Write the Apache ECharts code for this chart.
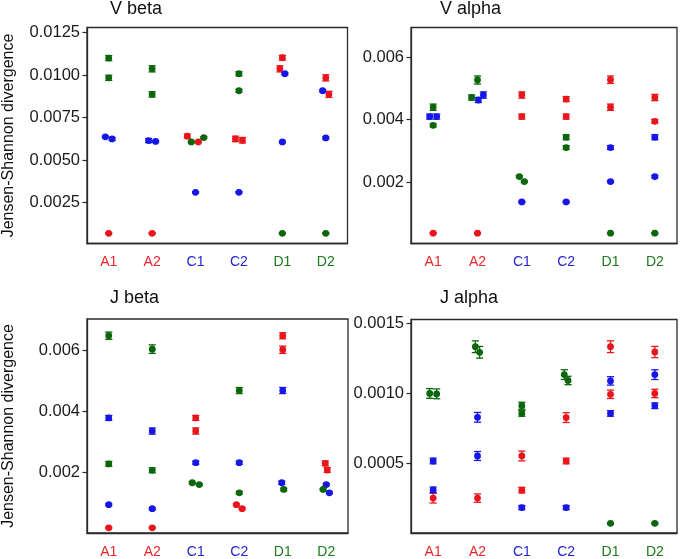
<!DOCTYPE html>
<html><head><meta charset="utf-8">
<script src="https://cdn.jsdelivr.net/npm/echarts@6/dist/echarts.min.js"></script>
<style>html,body{margin:0;padding:0;background:#fff}#c{width:680px;height:559px}</style>
</head><body><div id="c"></div>
<script>
// ---------- data ----------
const categories = ['A1', 'A2', 'C1', 'C2', 'D1', 'D2'];
const categoryGroup = ['A', 'A', 'C', 'C', 'D', 'D'];
const panelTitles = ['V beta', 'V alpha', 'J beta', 'J alpha'];
const yAxisTitle = 'Jensen-Shannon divergence';

// axis limits
const vBetaRange = [0.0001, 0.0128];
const vAlphaRange = [0.00004, 0.00695];
const jBetaRange = [0, 0.00703];
const jAlphaRange = [0, 0.00153];

// tick labels
const vBetaTicks = ['0.0025', '0.0050', '0.0075', '0.0100', '0.0125'];
const vAlphaTicks = ['0.002', '0.004', '0.006'];
const jBetaTicks = ['0.002', '0.004', '0.006'];
const jAlphaTicks = ['0.0005', '0.0010', '0.0015'];

// points: [categoryIndex, value, error]; grouped by comparison sample (A = red, C = blue, D = green)
const vBetaA = [[0,0.0007,0.00003],[1,0.0007,0.00003],[2,0.00607,0.00004],[2,0.00641,0.00012],[3,0.00617,0.00016],[3,0.00625,0.00016],[4,0.01102,0.00014],[4,0.01037,0.00018],[5,0.00984,0.00018],[5,0.00887,0.00018]];
const vBetaC = [[0,0.00637,0.00005],[0,0.00625,0.00008],[1,0.0061,0.00005],[1,0.00615,0.00012],[2,0.00311,0.00004],[3,0.00311,0.00004],[4,0.01008,0.00006],[4,0.00607,0.00005],[5,0.00908,0.00006],[5,0.00631,0.00006]];
const vBetaD = [[0,0.0110,0.00015],[0,0.00984,0.00015],[1,0.01037,0.00018],[1,0.00887,0.00016],[2,0.00607,0.00005],[2,0.00633,0.00005],[3,0.01008,0.00012],[3,0.00908,0.00008],[4,0.0007,0.00003],[5,0.0007,0.00003]];

const vAlphaA = [[0,0.00037,0.00001],[1,0.00037,0.00001],[2,0.00479,0.0001],[2,0.0041,0.00008],[3,0.00466,0.00008],[3,0.0041,0.00008],[4,0.00528,0.00012],[4,0.0044,0.0001],[5,0.00471,0.0001],[5,0.00395,0.00006]];
const vAlphaC = [[0,0.0041,0.00008],[0,0.0041,0.00008],[1,0.00463,0.00008],[1,0.00479,0.0001],[2,0.00137,0.00002],[3,0.00137,0.00002],[4,0.00311,0.00006],[4,0.00202,0.00003],[5,0.00344,0.00008],[5,0.00218,0.00004]];
const vAlphaD = [[0,0.0044,0.0001],[0,0.00382,0.00005],[1,0.00527,0.00013],[1,0.00471,0.00008],[2,0.00218,0.00003],[2,0.00202,0.00003],[3,0.00344,0.00008],[3,0.00311,0.00006],[4,0.00037,0.00001],[5,0.00037,0.00001]];

const jBetaA = [[0,0.00017,0.00002],[1,0.00017,0.00002],[2,0.00378,0.00008],[2,0.00335,0.0001],[3,0.0008,0.00003],[3,0.00093,0.00003],[4,0.00648,0.0001],[4,0.00602,0.00012],[5,0.00229,0.00008],[5,0.00207,0.00008]];
const jBetaC = [[0,0.00378,0.00008],[0,0.00093,0.00003],[1,0.00335,0.0001],[1,0.0008,0.00003],[2,0.00231,0.00005],[3,0.00231,0.00005],[4,0.00468,0.0001],[4,0.00165,0.00005],[5,0.00159,0.00003],[5,0.00132,0.00003]];
const jBetaD = [[0,0.00648,0.00012],[0,0.00227,0.00008],[1,0.00604,0.00014],[1,0.00206,0.00008],[2,0.00165,0.00003],[2,0.00159,0.00003],[3,0.00468,0.0001],[3,0.00132,0.00004],[4,0.00143,0.00004],[5,0.00143,0.00003]];

const jAlphaA = [[0,0.00025,0.000035],[1,0.00025,0.00003],[2,0.000552,0.000035],[2,0.000307,0.00002],[3,0.000827,0.000035],[3,0.000516,0.00002],[4,0.001335,0.000042],[4,0.000994,0.00003],[5,0.001297,0.00004],[5,0.001,0.00003]];
const jAlphaC = [[0,0.000516,0.00002],[0,0.000309,0.00002],[1,0.000829,0.000035],[1,0.000552,0.000032],[2,0.000182,0.000015],[3,0.000182,0.000015],[4,0.00109,0.00003],[4,0.000857,0.00002],[5,0.001135,0.000035],[5,0.000912,0.00002]];
const jAlphaD = [[0,0.001,0.000035],[0,0.000997,0.000035],[1,0.001335,0.000042],[1,0.001295,0.000042],[2,0.000912,0.000025],[2,0.000857,0.00002],[3,0.001093,0.00003],[3,0.001135,0.000035],[4,0.000069,0.000005],[5,0.000069,0.000005]];

// ---------- styling / layout ----------
const groupColor = { A: '#e8161c', C: '#1616e6', D: '#0c660c' };
const labelColor = { A: '#e8262a', C: '#2424d0', D: '#1c7a1c' };
const FONT = '"Liberation Sans", Arial, sans-serif';
const grids = [
  { left: 82, top: 27.5, width: 265.5, height: 216 },
  { left: 411, top: 27.5, width: 266, height: 216 },
  { left: 82, top: 319, width: 266, height: 216.5 },
  { left: 411, top: 319.5, width: 266, height: 216 }
];
const titlePos = [[110, 0], [440, 0], [110, 289], [440, 289]];
const DOT_R = 3.4;

const panels = [
  { range: vBetaRange, ticks: vBetaTicks, groups: { A: vBetaA, C: vBetaC, D: vBetaD } },
  { range: vAlphaRange, ticks: vAlphaTicks, groups: { A: vAlphaA, C: vAlphaC, D: vAlphaD } },
  { range: jBetaRange, ticks: jBetaTicks, groups: { A: jBetaA, C: jBetaC, D: jBetaD } },
  { range: jAlphaRange, ticks: jAlphaTicks, groups: { A: jAlphaA, C: jAlphaC, D: jAlphaD } }
];

// simple beeswarm: horizontal pixel offsets computed from values
function beeswarm(panel, gridH) {
  const pxPerUnit = gridH / (panel.range[1] - panel.range[0]);
  const d = DOT_R * 2 + 0.2;
  const all = [];
  Object.keys(panel.groups).forEach(g => panel.groups[g].forEach(r => all.push({ g, cat: r[0], v: r[1], e: r[2], dx: 0 })));
  const byCat = {};
  all.forEach(p => (byCat[p.cat] = byCat[p.cat] || []).push(p));
  Object.values(byCat).forEach(list => {
    list.sort((a, b) => a.v - b.v);
    const placed = [];
    list.forEach(p => {
      p.py = p.v * pxPerUnit;
      for (let k = 0; k < 400; k++) {
        const c = k === 0 ? 0 : (k % 2 === 1 ? -1 : 1) * Math.ceil(k / 2) * 0.25;
        if (placed.every(q => (c - q.dx) ** 2 + (p.py - q.py) ** 2 >= d * d)) { p.dx = c; break; }
      }
      placed.push(p);
    });
    const parent = placed.map((_, i) => i);
    const find = i => parent[i] === i ? i : (parent[i] = find(parent[i]));
    for (let i = 0; i < placed.length; i++)
      for (let j = i + 1; j < placed.length; j++) {
        const a = placed[i], b = placed[j];
        if (Math.hypot(a.dx - b.dx, a.py - b.py) < d + 0.6) parent[find(i)] = find(j);
      }
    const clusters = {};
    placed.forEach((p, i) => (clusters[find(i)] = clusters[find(i)] || []).push(p));
    Object.values(clusters).forEach(cl => {
      const mn = Math.min(...cl.map(p => p.dx)), mx = Math.max(...cl.map(p => p.dx));
      const sh = -(mn + mx) / 2;
      cl.forEach(p => p.dx += sh);
    });
  });
  return all;
}

function makeRender(color) {
  return function (params, api) {
    const ci = api.value(0), v = api.value(1), e = api.value(2), dx = api.value(3);
    const c = api.coord([ci, v]);
    const yt = api.coord([ci, v + e])[1];
    const yb = api.coord([ci, v - e])[1];
    const x = c[0] + dx;
    const st = { stroke: color, lineWidth: 1.3 };
    return {
      type: 'group',
      children: [
        { type: 'line', shape: { x1: x, y1: yt, x2: x, y2: yb }, style: st },
        { type: 'line', shape: { x1: x - 3.6, y1: yt, x2: x + 3.6, y2: yt }, style: st },
        { type: 'line', shape: { x1: x - 3.6, y1: yb, x2: x + 3.6, y2: yb }, style: st },
        { type: 'circle', shape: { cx: x, cy: c[1], r: DOT_R }, style: { fill: color } }
      ]
    };
  };
}

const option = {
  animation: false,
  backgroundColor: '#fff',
  title: panelTitles.map((t, i) => ({
    text: t, left: titlePos[i][0], top: titlePos[i][1], padding: 0,
    textStyle: { fontFamily: FONT, fontSize: 18, fontWeight: 'normal', color: '#111' }
  })),
  grid: grids.map(g => Object.assign({ show: true, borderColor: '#2a2a2a', borderWidth: 1.3, backgroundColor: 'transparent' }, g)),
  xAxis: grids.map((g, i) => ({
    type: 'category', gridIndex: i, data: categories, boundaryGap: true,
    axisLine: { show: true, lineStyle: { color: '#2a2a2a', width: 1.3 } },
    axisTick: { show: false },
    splitLine: { show: false },
    axisLabel: {
      margin: 12, fontFamily: FONT, fontSize: 14,
      color: (val, idx) => labelColor[categoryGroup[idx]]
    }
  })),
  yAxis: panels.map((p, i) => ({
    type: 'value', gridIndex: i, min: p.range[0], max: p.range[1],
    name: (i === 0 || i === 2) ? yAxisTitle : '',
    nameLocation: 'middle', nameGap: 70,
    nameTextStyle: { fontFamily: FONT, fontSize: 16, color: '#111' },
    axisLine: { show: true, lineStyle: { color: '#2a2a2a', width: 1.3 } },
    axisTick: { show: true, length: 4.5, lineStyle: { color: '#2a2a2a', width: 1.2 }, customValues: p.ticks.map(Number) },
    splitLine: { show: false },
    axisLabel: {
      margin: 7, fontFamily: FONT, fontSize: 16.5, color: '#1a1a1a',
      customValues: p.ticks.map(Number),
      formatter: v => { const t = p.ticks.find(s => Math.abs(Number(s) - v) < 1e-12); return t || ''; }
    }
  })),
  series: []
};

panels.forEach((p, i) => {
  const pts = beeswarm(p, grids[i].height);
  ['A', 'C', 'D'].forEach(g => {
    option.series.push({
      type: 'custom', xAxisIndex: i, yAxisIndex: i, silent: true,
      encode: { x: 0, y: 1 },
      data: pts.filter(q => q.g === g).map(q => [q.cat, q.v, q.e, q.dx]),
      renderItem: makeRender(groupColor[g])
    });
  });
});

const chart = echarts.init(document.getElementById('c'), null, { renderer: 'canvas' });
chart.setOption(option);
</script></body></html>
